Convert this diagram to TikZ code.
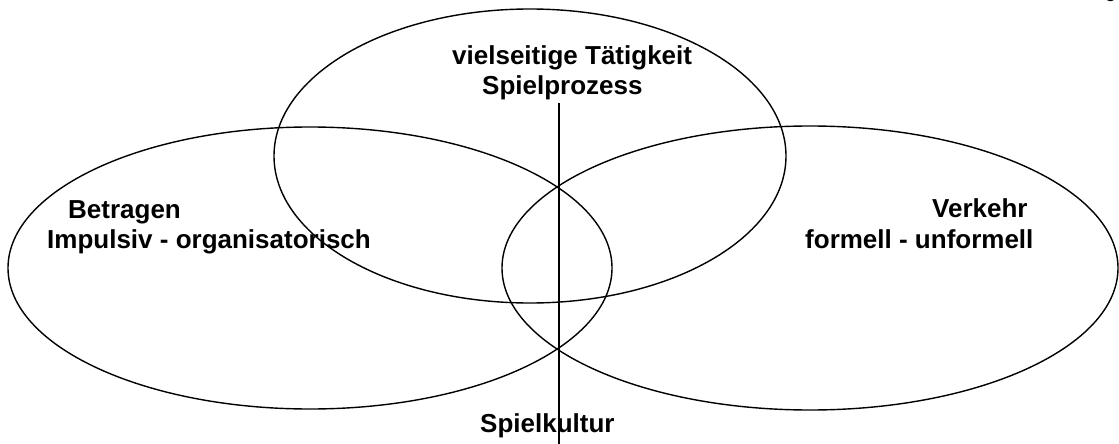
\documentclass[tikz,border=0pt]{standalone}
\usepackage{fontspec}
\setmainfont{Liberation Sans}
\begin{document}
\begin{tikzpicture}[x=1pt,y=-1pt,
  ring/.style={draw=black,line width=1.4pt},
  lab/.style={font=\bfseries\fontsize{26}{30}\selectfont,inner sep=0pt,anchor=base west}]
\useasboundingbox (0,0) rectangle (1119,444);
\coordinate (ctop) at (530,156);
\coordinate (cleft) at (310,268);
\coordinate (cright) at (810,268);
\draw[ring] (ctop) ellipse [x radius=256, y radius=147];
\draw[ring] (cleft) ellipse [x radius=302, y radius=141];
\draw[ring] (cright) ellipse [x radius=308, y radius=142];
\coordinate (vtop) at (559,103);
\coordinate (vbot) at (559,446);
\draw[line width=1.4pt] (vtop) -- (vbot);
\node[lab] (t1) at (452,64) {vielseitige Tätigkeit};
\node[lab] (t2) at (482,95) {Spielprozess};
\node[lab] (l1) at (68,218) {Betragen};
\node[lab] (l2) at (47,248) {Impulsiv - organisatorisch};
\node[lab] (r1) at (932,217) {Verkehr};
\node[lab] (r2) at (805,248) {formell - unformell};
\node[lab] (b1) at (480,432) {Spielkultur};
\node[lab,font=\fontsize{20}{24}\selectfont] (pg) at (1105,-2) {g};
\end{tikzpicture}
\end{document}
